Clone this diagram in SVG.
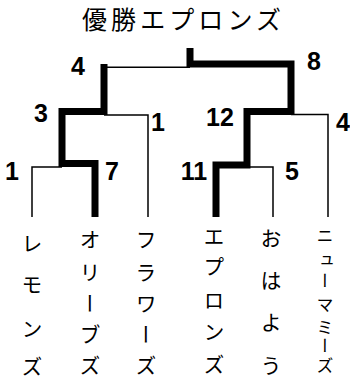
<svg xmlns="http://www.w3.org/2000/svg" width="350" height="382" viewBox="0 0 350 382">
<style>
.thick{fill:none;stroke:#000;stroke-width:7;stroke-linejoin:miter;stroke-linecap:butt}
.thin{fill:none;stroke:#000;stroke-width:1.5}
.num{font-family:"Liberation Sans",Arial,sans-serif;font-weight:bold;font-size:25px;text-anchor:middle;fill:#000}
.title{font-family:"Noto Sans CJK JP",sans-serif;font-size:25px;fill:#000}
.name{font-family:"Noto Sans CJK JP",sans-serif;font-size:21px;fill:#000;writing-mode:vertical-rl;text-anchor:middle}
</style>
<rect width="350" height="382" fill="#fff"/>
<g id="title"><text class="title" x="82" y="29" textLength="199" lengthAdjust="spacing">優勝エプロンズ</text></g>
<g id="connectors">
<path class="thin" d="M104,67.2 H190"/>
<path class="thin" d="M104,115 H148 V217"/>
<path class="thin" d="M62,167 H32 V217"/>
<path class="thin" d="M291,114.5 H328 V217"/>
<path class="thin" d="M247,167 H273 V217"/>
<path class="thick" d="M95,217 V163.5 H62 V111.5 H104 V64"/>
<path class="thick" d="M216,217 V165 H247 V111.5 H291 V64 H190 V48"/>
</g>
<g id="scores">
<text class="num" x="78" y="75">4</text>
<text class="num" x="314" y="70">8</text>
<text class="num" x="41" y="122">3</text>
<text class="num" x="158" y="131">1</text>
<text class="num" x="220" y="126">12</text>
<text class="num" x="343" y="131">4</text>
<text class="num" x="12" y="180">1</text>
<text class="num" x="112" y="180">7</text>
<text class="num" x="194" y="180">11</text>
<text class="num" x="292" y="180">5</text>
</g>
<g id="team-lemons"><text class="name" x="32" y="243 284 328 366">レモンズ</text></g>
<g id="team-olives"><text class="name" x="90" y="239 272 303 334 365">オリーブズ</text></g>
<g id="team-flowers"><text class="name" x="146" y="239 272 303 334 365">フラワーズ</text></g>
<g id="team-aprons"><text class="name" x="214" y="236 266 300 331 364">エプロンズ</text></g>
<g id="team-ohayou"><text class="name" x="271" y="238 280 322 365">おはよう</text></g>
<g id="team-newmommies"><text class="name" style="font-size:17px" x="325" y="236 261 281 305 328 346 366">ニューマミーズ</text></g>
</svg>
